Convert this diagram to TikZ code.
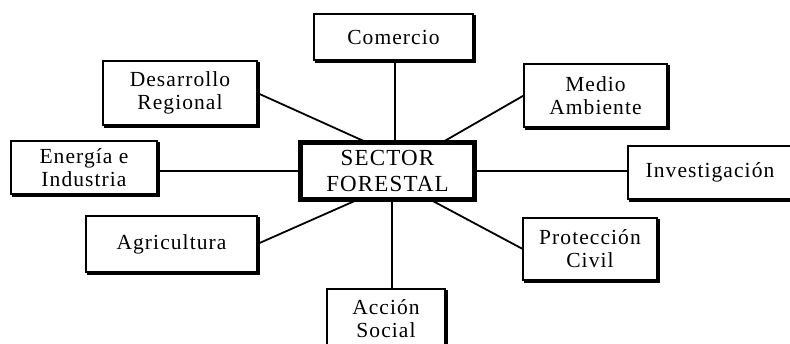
\documentclass[tikz,border=0pt]{standalone}
\usepackage{fontspec}
\setmainfont{Liberation Serif}[LetterSpace=5]
\begin{document}
\begin{tikzpicture}[x=1pt,y=-1pt,
  box/.style={draw, line width=1.8pt, inner sep=0pt, outer sep=0pt, align=center,
    font=\fontsize{21.5}{23}\selectfont},
  centralbox/.style={draw, line width=4.8pt, inner sep=0pt, outer sep=0pt, align=center,
    font=\fontsize{23}{26}\selectfont, minimum width=174pt, minimum height=57pt},
  link/.style={line width=1.8pt},
  shadowline/.style={line width=2.4pt}]
\useasboundingbox (0,0) rectangle (790,343);
\clip (0,0) rectangle (790,343);
\node[box, minimum width=159.6pt, minimum height=46.6pt] (com) at (393.5,37) {Comercio};
\node[box, minimum width=154.6pt, minimum height=64.6pt] (des) at (180,93) {Desarrollo\\Regional};
\node[box, minimum width=146.6pt, minimum height=53.6pt] (ene) at (84,167.5) {Energía e\\Industria};
\node[box, minimum width=143.6pt, minimum height=63.6pt] (med) at (595.5,95.5) {Medio\\Ambiente};
\node[box, minimum width=164.6pt, minimum height=53.6pt] (inv) at (710,172.5) {Investigación};
\node[box, minimum width=171.6pt, minimum height=56.6pt] (agr) at (171.5,244) {Agricultura};
\node[box, minimum width=134.6pt, minimum height=62.6pt] (pro) at (590,249) {Protección\\Civil};
\node[box, minimum width=118.6pt, minimum height=60.6pt] (acc) at (386,319) {Acción\\Social};
\node[centralbox] (sec) at (387.5,171) {SECTOR\\FORESTAL};
\foreach \n in {com,des,ene,med,inv,agr,pro,acc}
  \draw[shadowline] ([xshift=1.6pt,yshift=-1.2pt]\n.north east) -- ([xshift=1.6pt,yshift=-1.6pt]\n.south east) -- ([xshift=1.2pt,yshift=-1.6pt]\n.south west);
% connectors
\draw[link] ([xshift=1.5pt]com.south) -- ([xshift=1.5pt]com.south |- sec.north);
\draw[link] (des.east) -- ([xshift=-20.5pt]sec.north);
\draw[link] (med.west) -- ([xshift=54.5pt]sec.north);
\draw[link] (sec.west) -- (sec.west -| ene.east);
\draw[link] (sec.east) -- (sec.east -| inv.west);
\draw[link] ([xshift=42.5pt]sec.south) -- (pro.west);
\draw[link] ([xshift=-29.5pt]sec.south) -- (agr.east);
\draw[link] ([xshift=4.5pt]sec.south) -- ([xshift=4.5pt]sec.south |- acc.north);
\end{tikzpicture}
\end{document}
